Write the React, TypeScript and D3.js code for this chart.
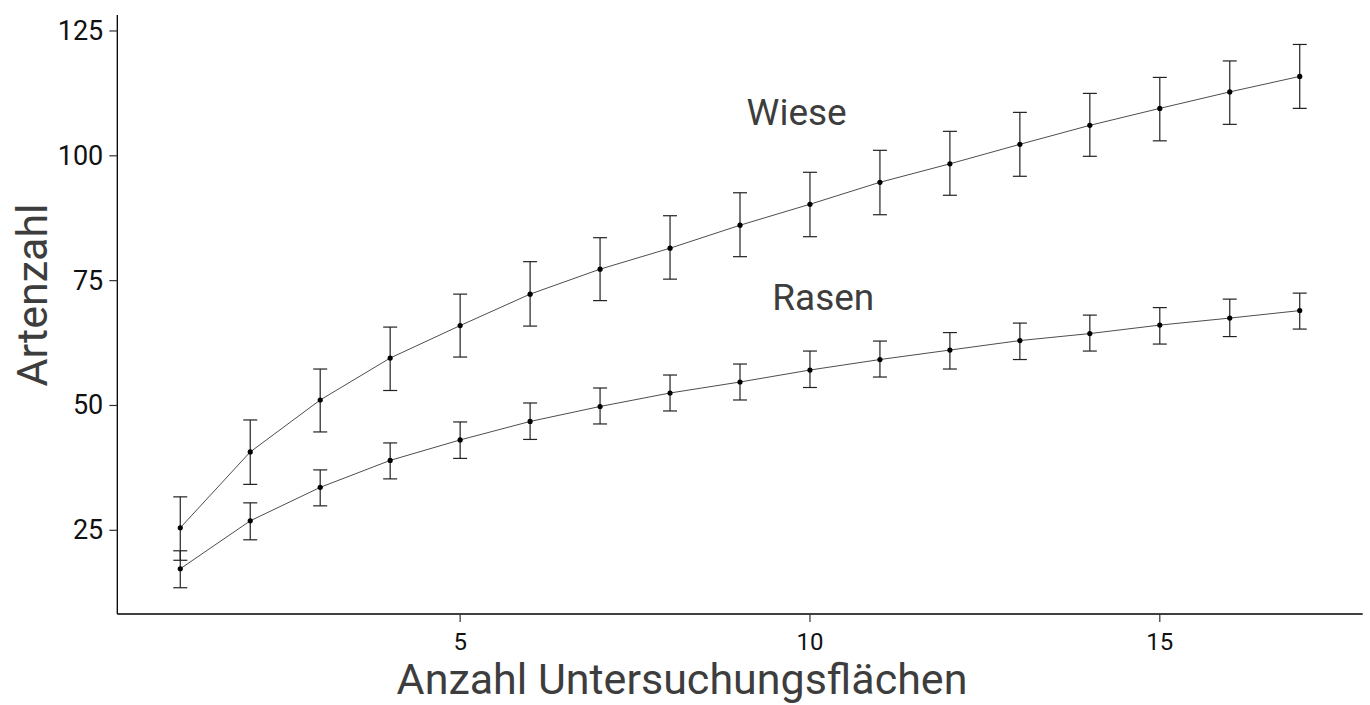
import React from "react";
import * as d3 from "d3";

const xs = [1, 2, 3, 4, 5, 6, 7, 8, 9, 10, 11, 12, 13, 14, 15, 16, 17];
const wieseMean = [25.5, 40.7, 51.1, 59.5, 66.0, 72.3, 77.3, 81.5, 86.1, 90.3, 94.7, 98.4, 102.3, 106.1, 109.5, 112.8, 115.9];
const wieseLo = [19.0, 34.2, 44.7, 53.0, 59.7, 65.9, 71.0, 75.3, 79.8, 83.8, 88.2, 92.1, 95.9, 99.9, 103.0, 106.3, 109.5];
const wieseHi = [31.7, 47.1, 57.3, 65.7, 72.3, 78.8, 83.6, 88.0, 92.6, 96.7, 101.1, 104.9, 108.7, 112.5, 115.7, 119.0, 122.3];
const rasenMean = [17.3, 26.9, 33.6, 39.0, 43.1, 46.8, 49.8, 52.5, 54.7, 57.1, 59.2, 61.1, 63.0, 64.4, 66.1, 67.5, 69.0];
const rasenLo = [13.5, 23.1, 29.9, 35.3, 39.4, 43.2, 46.3, 48.9, 51.1, 53.6, 55.7, 57.3, 59.2, 60.9, 62.3, 63.8, 65.3];
const rasenHi = [20.9, 30.5, 37.1, 42.5, 46.7, 50.5, 53.5, 56.1, 58.3, 60.9, 62.9, 64.6, 66.5, 68.1, 69.6, 71.3, 72.5];
const xTicks = [5, 10, 15];
const yTicks = [25, 50, 75, 100, 125];
const seriesLabels = ["Wiese", "Rasen"];
const xTitle = "Anzahl Untersuchungsflächen";
const yTitle = "Artenzahl";

const W = 1370, H = 705;
const left = 117.3, right = 1362.7, top = 15, bottom = 614;
const FONT = "Roboto, 'Liberation Sans', Arial, sans-serif";

export default function App() {
  const x = d3.scaleLinear().domain([0.1, 17.9]).range([left, right]);
  const y = d3.scaleLinear().domain([8.24, 128.2]).range([bottom, top]);
  const line = d3.line<number>().x((_, i) => x(xs[i])).y((d) => y(d));
  const capHalf = (x(1.1) - x(0.9)) / 2;

  const series = [
    { mean: wieseMean, lo: wieseLo, hi: wieseHi },
    { mean: rasenMean, lo: rasenLo, hi: rasenHi },
  ];
  const labelPos = [
    { x: 9.81, y: 106.2 },
    { x: 10.19, y: 69.1 },
  ];

  return (
    <svg width={W} height={H} style={{ position: "absolute", left: 0, top: 0, background: "#fff" }}>
      {series.map((s, si) => (
        <g key={si}>
          {xs.map((xv, i) => (
            <g key={i} stroke="#222" strokeWidth={1.2}>
              <line x1={x(xv)} x2={x(xv)} y1={y(s.lo[i])} y2={y(s.hi[i])} />
              <line x1={x(xv) - capHalf} x2={x(xv) + capHalf} y1={y(s.lo[i])} y2={y(s.lo[i])} />
              <line x1={x(xv) - capHalf} x2={x(xv) + capHalf} y1={y(s.hi[i])} y2={y(s.hi[i])} />
            </g>
          ))}
          <path d={line(s.mean) || ""} fill="none" stroke="#000" strokeWidth={0.7} />
          {xs.map((xv, i) => (
            <circle key={i} cx={x(xv)} cy={y(s.mean[i])} r={2.6} fill="#000" />
          ))}
        </g>
      ))}
      {seriesLabels.map((t, i) => (
        <text key={t} x={x(labelPos[i].x)} y={y(labelPos[i].y)} textAnchor="middle"
          fontFamily={FONT} fontSize={37} fill="#3d3d3d">{t}</text>
      ))}
      <line x1={left} x2={left} y1={top} y2={bottom} stroke="#000" strokeWidth={1.3} />
      <line x1={left} x2={right} y1={bottom} y2={bottom} stroke="#000" strokeWidth={1.3} />
      {yTicks.map((t) => (
        <g key={t}>
          <line x1={left - 8} x2={left} y1={y(t)} y2={y(t)} stroke="#333" strokeWidth={1.2} />
          <text x={left - 14} y={y(t)} textAnchor="end" dominantBaseline="central"
            fontFamily={FONT} fontSize={27} fill="#111">{t}</text>
        </g>
      ))}
      {xTicks.map((t) => (
        <g key={t}>
          <line x1={x(t)} x2={x(t)} y1={bottom} y2={bottom + 8} stroke="#333" strokeWidth={1.2} />
          <text x={x(t)} y={650} textAnchor="middle"
            fontFamily={FONT} fontSize={24} fill="#111">{t}</text>
        </g>
      ))}
      <text x={682} y={694} textAnchor="middle" fontFamily={FONT} fontSize={43} fill="#3d3d3d">{xTitle}</text>
      <text transform={`translate(47,${295}) rotate(-90)`} textAnchor="middle"
        fontFamily={FONT} fontSize={43} fill="#3d3d3d">{yTitle}</text>
    </svg>
  );
}
